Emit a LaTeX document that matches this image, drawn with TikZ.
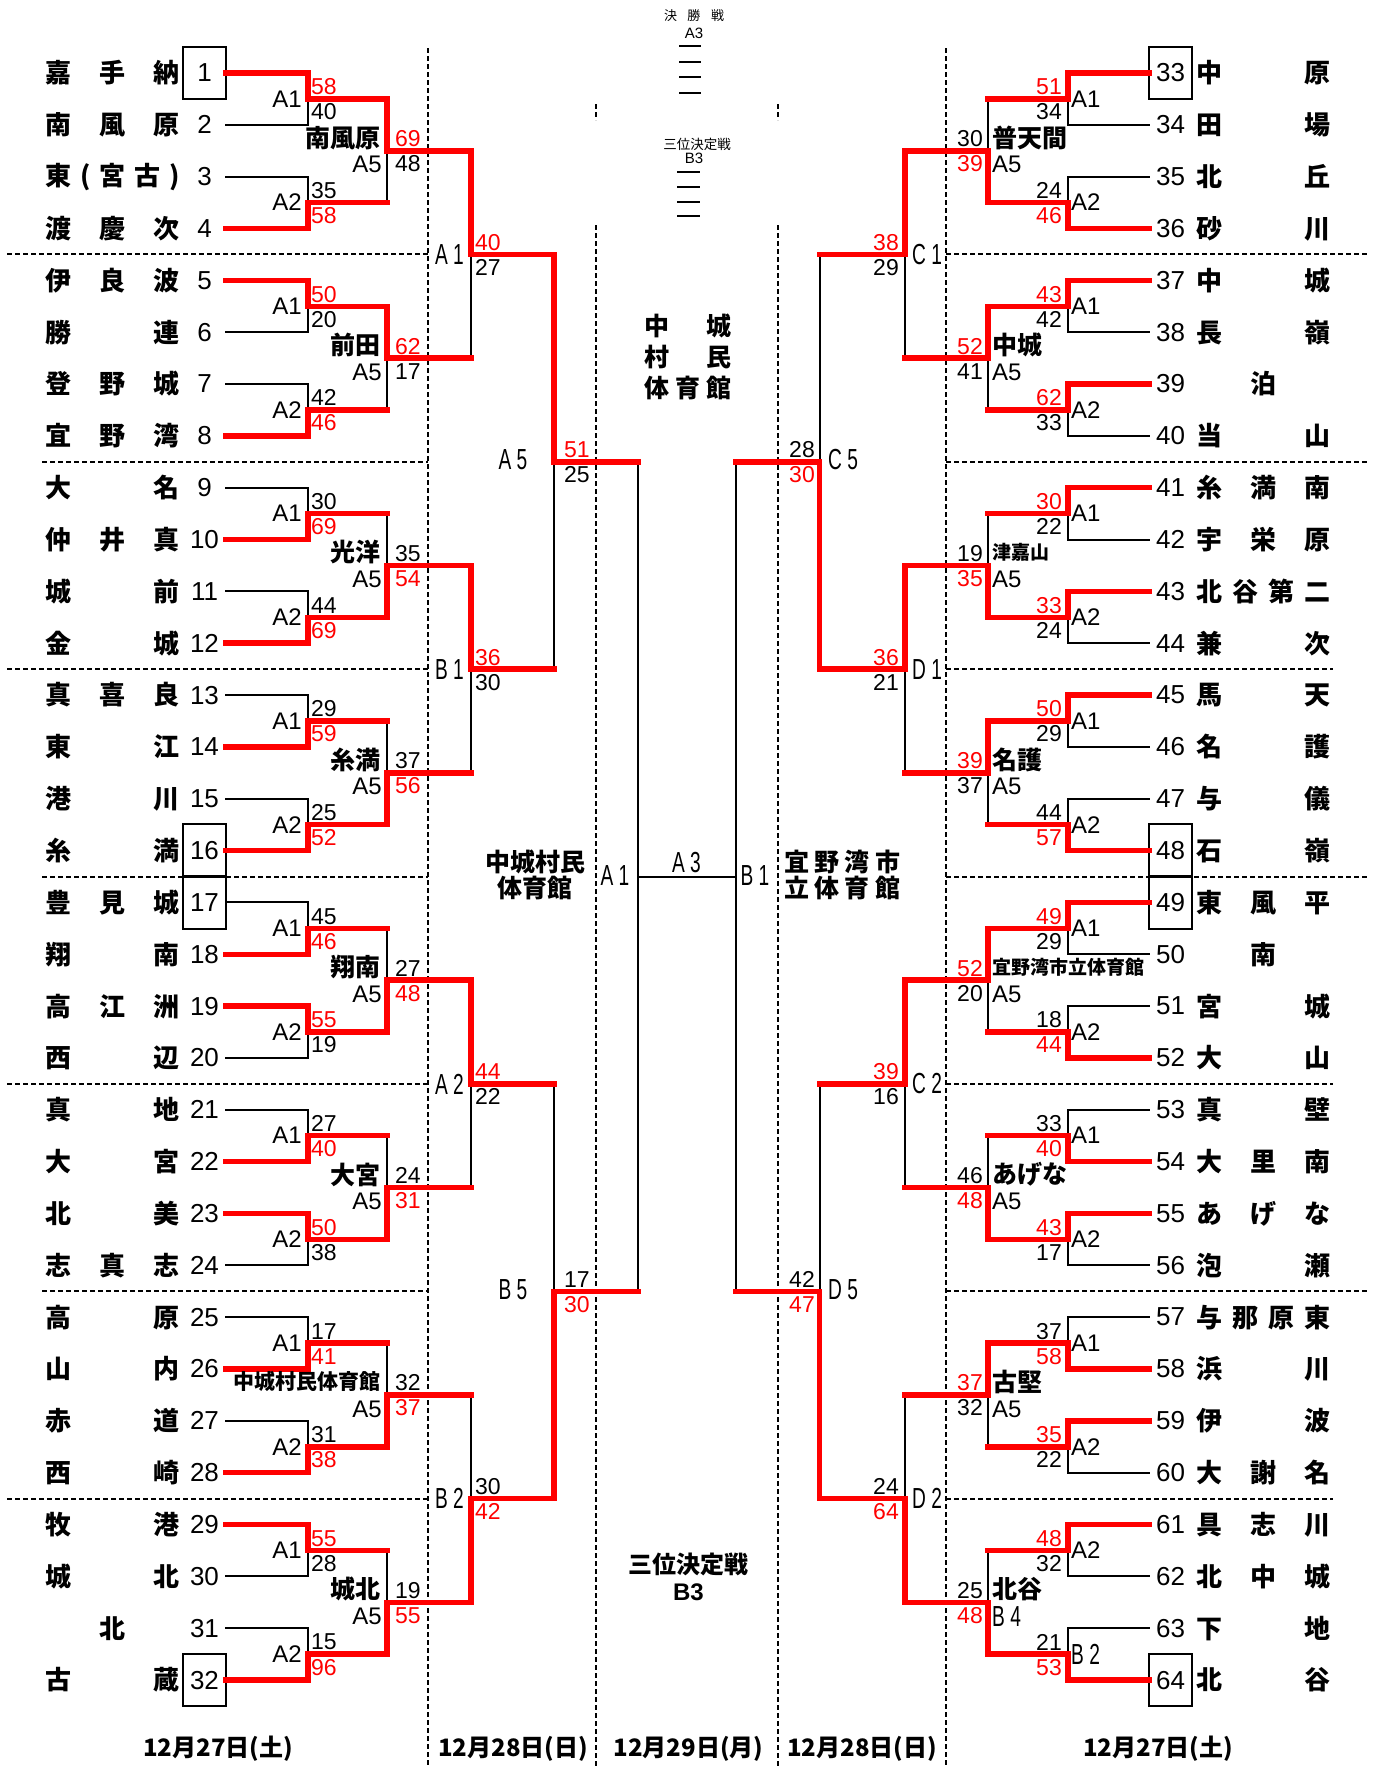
\documentclass[tikz,border=0pt]{standalone}
\usepackage{fontspec}
\usepackage{graphicx}
\setmainfont{Liberation Sans}
\newfontfamily\jp{Noto Sans CJK JP}
\pgfdeclarelayer{fondo}
\pgfsetlayers{fondo,main}

% letras estrechas de las rondas interiores
\newcommand{\letra}[1]{{\fontsize{29}{29}\selectfont\scalebox{.66}[1]{#1}}}

% linea de un equipo hasta el primer cruce: roja si gano, negra si perdio
\newcommand{\entrada}[3]{%
  \ifnum#3=1 \draw[gana] #1 -- #2;
  \else \begin{pgfonlayer}{fondo}\draw[fino] #1 -- #2;\end{pgfonlayer}\fi}

% cruce: x del cruce, x siguiente, entrada arriba, entrada abajo, y media, ganador (1 arriba, 2 abajo)
\newcommand{\cruce}[6]{%
  \ifnum#6=1
    \begin{pgfonlayer}{fondo}\draw[fino] #4 -- (#1,#5);\end{pgfonlayer}
    \draw[gana] #3 -- (#1,#5) -- (#2,#5);
  \else
    \begin{pgfonlayer}{fondo}\draw[fino] #3 -- (#1,#5);\end{pgfonlayer}
    \draw[gana] #4 -- (#1,#5) -- (#2,#5);
  \fi}

% tanteos junto al cruce, el del ganador en rojo
\newcommand{\marcador}[7]{%
  \ifnum#7=1 \def\colsup{red}\def\colinf{black}%
  \else \def\colsup{black}\def\colinf{red}\fi
  \node[pts,text=\colsup,anchor=#3] (#1a) at (#2,#4-12) {#5};
  \node[pts,text=\colinf,anchor=#3] (#1b) at (#2,#4+13) {#6};}

\begin{document}
\begin{tikzpicture}[x=1pt,y=-1pt,
    fino/.style={line width=2pt,line cap=rect},
    gana/.style={red,line width=5.5pt,line cap=rect},
    guion/.style={line width=2pt,dash pattern=on 5pt off 3pt},
    num/.style={font=\fontsize{26}{26}\selectfont,inner sep=0pt,
      minimum width=43pt,minimum height=51.84pt},
    equipo/.style={font=\jp\bfseries\fontsize{26}{26}\selectfont,inner sep=0pt,anchor=west},
    pts/.style={font=\fontsize{23}{23}\selectfont,inner sep=0pt},
    ronda/.style={font=\fontsize{24}{24}\selectfont,inner sep=0pt},
    sede/.style={font=\jp\bfseries\fontsize{#1}{#1}\selectfont,inner sep=0pt},
    rotulo/.style={font=\jp\bfseries\fontsize{25}{26}\selectfont,align=center,inner sep=0pt},
    fecha/.style={font=\jp\bfseries\fontsize{24}{24}\selectfont,inner sep=0pt}]
  \useasboundingbox (0,0) rectangle (1380,1767);

  % lineas de puntos entre dias y grupos
  \draw[guion] (428,48) -- (428,1767);
  \draw[guion] (946,48) -- (946,1767);
  \draw[guion] (596,104) -- (596,120);
  \draw[guion] (596,225) -- (596,1767);
  \draw[guion] (778,104) -- (778,120);
  \draw[guion] (778,225) -- (778,1767);
  \foreach \y/\xi in {254.4/7, 461.8/42, 669.2/7, 876.5/42, 1083.9/7, 1291.2/42, 1498.6/7}
    \draw[guion] (\xi,\y) -- (428,\y);
  \foreach \y/\xf in {254.4/1368, 461.8/1368, 669.2/1333, 876.5/1368, 1083.9/1333, 1291.2/1368, 1498.6/1333}
    \draw[guion] (946,\y) -- (\xf,\y);

  % equipos de la izquierda
  \foreach \i/\nom in {1/嘉\hfill 手\hfill 納, 2/南\hfill 風\hfill 原, 3/東\hfill (\hfill 宮\hfill 古\hfill ),
      4/渡\hfill 慶\hfill 次, 5/伊\hfill 良\hfill 波, 6/勝\hfill 連, 7/登\hfill 野\hfill 城,
      8/宜\hfill 野\hfill 湾, 9/大\hfill 名, 10/仲\hfill 井\hfill 真, 11/城\hfill 前, 12/金\hfill 城,
      13/真\hfill 喜\hfill 良, 14/東\hfill 江, 15/港\hfill 川, 16/糸\hfill 満, 17/豊\hfill 見\hfill 城,
      18/翔\hfill 南, 19/高\hfill 江\hfill 洲, 20/西\hfill 辺, 21/真\hfill 地, 22/大\hfill 宮,
      23/北\hfill 美, 24/志\hfill 真\hfill 志, 25/高\hfill 原, 26/山\hfill 内, 27/赤\hfill 道,
      28/西\hfill 崎, 29/牧\hfill 港, 30/城\hfill 北, 31/\hfill 北\hfill, 32/古\hfill 蔵}{
    \pgfmathsetmacro\y{73+(\i-1)*51.84}
    \node[num] (n\i) at (204.5,\y) {\i};
    \node[equipo] (e\i) at (45.5,\y) {\makebox[134pt]{\nom}};
  }
  % equipos de la derecha
  \foreach \i/\nom in {33/中\hfill 原, 34/田\hfill 場, 35/北\hfill 丘, 36/砂\hfill 川, 37/中\hfill 城,
      38/長\hfill 嶺, 39/\hfill 泊\hfill, 40/当\hfill 山, 41/糸\hfill 満\hfill 南, 42/宇\hfill 栄\hfill 原,
      43/北\hfill 谷\hfill 第\hfill 二, 44/兼\hfill 次, 45/馬\hfill 天, 46/名\hfill 護, 47/与\hfill 儀,
      48/石\hfill 嶺, 49/東\hfill 風\hfill 平, 50/\hfill 南\hfill, 51/宮\hfill 城, 52/大\hfill 山,
      53/真\hfill 壁, 54/大\hfill 里\hfill 南, 55/あ\hfill げ\hfill な, 56/泡\hfill 瀬,
      57/与\hfill 那\hfill 原\hfill 東, 58/浜\hfill 川, 59/伊\hfill 波, 60/大\hfill 謝\hfill 名,
      61/具\hfill 志\hfill 川, 62/北\hfill 中\hfill 城, 63/下\hfill 地, 64/北\hfill 谷}{
    \pgfmathsetmacro\y{73+(\i-33)*51.84}
    \node[num] (n\i) at (1170.5,\y) {\i};
    \node[equipo] (e\i) at (1196.5,\y) {\makebox[134pt]{\nom}};
  }
  % cabezas de serie en recuadro
  \foreach \i in {1,16,17,32,33,48,49,64}
    \draw[fino] (n\i.south west) rectangle (n\i.north east);

  % primera ronda, izquierda
  \foreach \ra/\sa/\sb/\g/\et in {1/58/40/1/A1, 3/35/58/2/A2, 5/50/20/1/A1, 7/42/46/2/A2,
      9/30/69/2/A1, 11/44/69/2/A2, 13/29/59/2/A1, 15/25/52/2/A2, 17/45/46/2/A1, 19/55/19/1/A2,
      21/27/40/2/A1, 23/50/38/1/A2, 25/17/41/2/A1, 27/31/38/2/A2, 29/55/28/1/A1, 31/15/96/2/A2}{
    \pgfmathtruncatemacro\rb{\ra+1}
    \pgfmathtruncatemacro\wa{\g==1}
    \pgfmathtruncatemacro\wb{\g==2}
    \pgfmathsetmacro\ya{73+(\ra-1)*51.84}
    \pgfmathsetmacro\yb{\ya+51.84}
    \pgfmathsetmacro\ym{\ya+25.92}
    \coordinate (o1-\ra) at (387,\ym);
    \entrada{(n\ra.east)}{(308,\ya)}{\wa}
    \entrada{(n\rb.east)}{(308,\yb)}{\wb}
    \cruce{308}{387}{(308,\ya)}{(308,\yb)}{\ym}{\g}
    \marcador{m1-\ra}{311}{west}{\ym}{\sa}{\sb}{\g}
    \node[ronda,anchor=east] (r1-\ra) at (302,\ym) {\et};
  }
  % primera ronda, derecha
  \foreach \ra/\sa/\sb/\g/\et in {33/51/34/1/A1, 35/24/46/2/A2, 37/43/42/1/A1, 39/62/33/1/A2,
      41/30/22/1/A1, 43/33/24/1/A2, 45/50/29/1/A1, 47/44/57/2/A2, 49/49/29/1/A1, 51/18/44/2/A2,
      53/33/40/2/A1, 55/43/17/1/A2, 57/37/58/2/A1, 59/35/22/1/A2, 61/48/32/1/A2, 63/21/53/2/\letra{B 2}}{
    \pgfmathtruncatemacro\rb{\ra+1}
    \pgfmathtruncatemacro\wa{\g==1}
    \pgfmathtruncatemacro\wb{\g==2}
    \pgfmathsetmacro\ya{73+(\ra-33)*51.84}
    \pgfmathsetmacro\yb{\ya+51.84}
    \pgfmathsetmacro\ym{\ya+25.92}
    \coordinate (o1-\ra) at (988,\ym);
    \entrada{(n\ra.west)}{(1068,\ya)}{\wa}
    \entrada{(n\rb.west)}{(1068,\yb)}{\wb}
    \cruce{1068}{988}{(1068,\ya)}{(1068,\yb)}{\ym}{\g}
    \marcador{m1-\ra}{1062}{east}{\ym}{\sa}{\sb}{\g}
    \node[ronda,anchor=west] (r1-\ra) at (1071,\ym) {\et};
  }

  % segunda ronda, con la sede encima
  \foreach \ra/\sa/\sb/\g/\sd/\tam in {1/69/48/1/南風原/25, 5/62/17/1/前田/25, 9/35/54/2/光洋/25,
      13/37/56/2/糸満/25, 17/27/48/2/翔南/25, 21/24/31/2/大宮/25, 25/32/37/2/中城村民体育館/21,
      29/19/55/2/城北/25}{
    \pgfmathtruncatemacro\rc{\ra+2}
    \pgfmathsetmacro\ym{73+(\ra+0.5)*51.84}
    \coordinate (o2-\ra) at (471,\ym);
    \cruce{387}{471}{(o1-\ra)}{(o1-\rc)}{\ym}{\g}
    \marcador{m2-\ra}{395}{west}{\ym}{\sa}{\sb}{\g}
    \node[ronda,anchor=east] (r2-\ra) at (382,\ym+14) {A5};
    \node[sede=\tam,anchor=east] (v2-\ra) at (381,\ym-13) {\sd};
  }
  \foreach \ra/\sa/\sb/\g/\sd/\et/\tam in {33/30/39/2/普天間/A5/25, 37/52/41/1/中城/A5/25,
      41/19/35/2/津嘉山/A5/19, 45/39/37/1/名護/A5/25, 49/52/20/1/宜野湾市立体育館/A5/19,
      53/46/48/2/あげな/A5/25, 57/37/32/1/古堅/A5/25, 61/25/48/2/北谷/\letra{B 4}/25}{
    \pgfmathtruncatemacro\rc{\ra+2}
    \pgfmathsetmacro\ym{73+(\ra-31.5)*51.84}
    \coordinate (o2-\ra) at (905,\ym);
    \cruce{988}{905}{(o1-\ra)}{(o1-\rc)}{\ym}{\g}
    \marcador{m2-\ra}{983}{east}{\ym}{\sa}{\sb}{\g}
    \node[ronda,anchor=west] (r2-\ra) at (992,\ym+14) {\et};
    \node[sede=\tam,anchor=west] (v2-\ra) at (992,\ym-13) {\sd};
  }

  % tercera ronda
  \foreach \ra/\sa/\sb/\g/\et in {1/40/27/1/A 1, 9/36/30/1/B 1, 17/44/22/1/A 2, 25/30/42/2/B 2}{
    \pgfmathtruncatemacro\rc{\ra+4}
    \pgfmathsetmacro\ym{73+(\ra+2.5)*51.84}
    \coordinate (o3-\ra) at (554,\ym);
    \cruce{471}{554}{(o2-\ra)}{(o2-\rc)}{\ym}{\g}
    \marcador{m3-\ra}{475}{west}{\ym}{\sa}{\sb}{\g}
    \node[inner sep=0pt,anchor=east] (r3-\ra) at (464,\ym) {\letra{\et}};
  }
  \foreach \ra/\sa/\sb/\g/\et in {33/38/29/1/C 1, 41/36/21/1/D 1, 49/39/16/1/C 2, 57/24/64/2/D 2}{
    \pgfmathtruncatemacro\rc{\ra+4}
    \pgfmathsetmacro\ym{73+(\ra-29.5)*51.84}
    \coordinate (o3-\ra) at (819.5,\ym);
    \cruce{905}{819.5}{(o2-\ra)}{(o2-\rc)}{\ym}{\g}
    \marcador{m3-\ra}{899}{east}{\ym}{\sa}{\sb}{\g}
    \node[inner sep=0pt,anchor=west] (r3-\ra) at (912,\ym) {\letra{\et}};
  }

  % cuartos
  \foreach \ra/\sa/\sb/\g/\et in {1/51/25/1/A 5, 17/17/30/2/B 5}{
    \pgfmathtruncatemacro\rc{\ra+8}
    \pgfmathsetmacro\ym{73+(\ra+6.5)*51.84}
    \coordinate (o4-\ra) at (638,\ym);
    \cruce{554}{638}{(o3-\ra)}{(o3-\rc)}{\ym}{\g}
    \marcador{m4-\ra}{564}{west}{\ym}{\sa}{\sb}{\g}
    \node[inner sep=0pt] (r4-\ra) at (513,\ym-2) {\letra{\et}};
  }
  \foreach \ra/\sa/\sb/\g/\et in {33/28/30/2/C 5, 49/42/47/2/D 5}{
    \pgfmathtruncatemacro\rc{\ra+8}
    \pgfmathsetmacro\ym{73+(\ra-25.5)*51.84}
    \coordinate (o4-\ra) at (736,\ym);
    \cruce{819.5}{736}{(o3-\ra)}{(o3-\rc)}{\ym}{\g}
    \marcador{m4-\ra}{815}{east}{\ym}{\sa}{\sb}{\g}
    \node[inner sep=0pt,anchor=west] (r4-\ra) at (828,\ym-2) {\letra{\et}};
  }

  % semifinales y final, sin jugar
  \path (o4-1) -- (o4-17) coordinate[pos=.5] (sfL);
  \path (o4-33) -- (o4-49) coordinate[pos=.5] (sfR);
  \begin{pgfonlayer}{fondo}
    \draw[fino] (o4-1) -- (o4-17);
    \draw[fino] (o4-33) -- (o4-49);
    \draw[fino] (sfL) -- (sfR);
  \end{pgfonlayer}
  \node[inner sep=0pt] (semiL) at (615,876) {\letra{A 1}};
  \node[inner sep=0pt] (semiR) at (755,876) {\letra{B 1}};
  \node[inner sep=0pt] (final) at (686.5,863) {\letra{A 3}};

  % cabecera del centro
  \node[font=\jp\fontsize{13}{13}\selectfont,inner sep=0pt] (kes) at (694,16) {\makebox[60pt]{決\hfill 勝\hfill 戦}};
  \node[font=\fontsize{15}{15}\selectfont,inner sep=0pt] (kesA) at (694,33) {A3};
  \foreach \y in {46,62,77,93} \draw[line width=1.7pt] (679,\y) -- (701,\y);
  \node[font=\jp\fontsize{13.5}{13.5}\selectfont,inner sep=0pt] (san) at (697,144) {三位決定戦};
  \node[font=\fontsize{15}{15}\selectfont,inner sep=0pt] (sanB) at (694,158) {B3};
  \foreach \y in {172,187,202,216} \draw[line width=1.7pt] (677,\y) -- (700,\y);

  % sedes
  \node[rotulo,font=\jp\bfseries\fontsize{25}{31}\selectfont] (sedeC) at (688,357)
    {\makebox[87pt]{中\hfill 城}\\\makebox[87pt]{村\hfill 民}\\\makebox[87pt]{体\hfill 育\hfill 館}};
  \node[rotulo] (sedeL) at (535,875) {中城村民\\体育館};
  \node[rotulo] (sedeR) at (842,875)
    {\makebox[116pt]{宜\hfill 野\hfill 湾\hfill 市}\\\makebox[116pt]{立\hfill 体\hfill 育\hfill 館}};
  \node[rotulo,font=\jp\bfseries\fontsize{24}{27}\selectfont] (tercero) at (688.5,1577)
    {三位決定戦\\\normalfont\bfseries\fontsize{24}{27}\selectfont B3};

  % fechas
  \node[fecha] (f1) at (218,1749) {12月27日(土)};
  \node[fecha] (f2) at (513,1749) {12月28日(日)};
  \node[fecha] (f3) at (688.5,1749) {12月29日(月)};
  \node[fecha] (f4) at (862,1749) {12月28日(日)};
  \node[fecha] (f5) at (1158,1749) {12月27日(土)};
\end{tikzpicture}
\end{document}
